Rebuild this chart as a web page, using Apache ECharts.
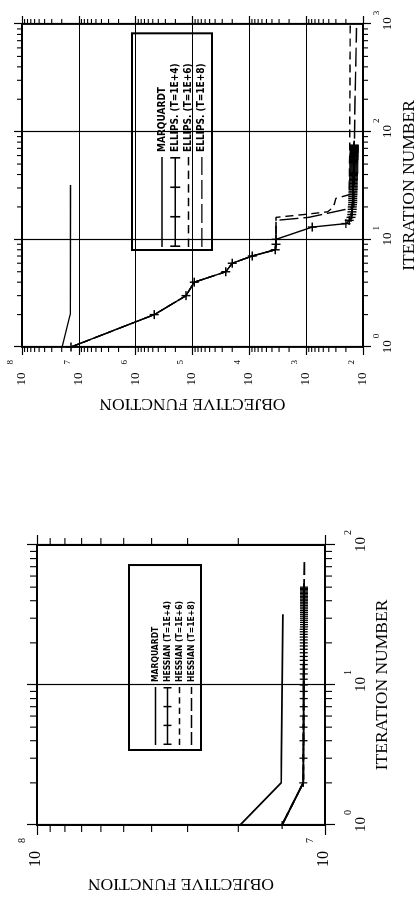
<!DOCTYPE html>
<html>
<head>
<meta charset="utf-8">
<script src="https://cdn.jsdelivr.net/npm/echarts@6/dist/echarts.min.js"></script>
<style>
  html, body { margin: 0; padding: 0; background: #fff; overflow: hidden; }
  /* the scan is a landscape figure turned a quarter turn, so the chart is drawn upright and rotated */
  #chart { position: absolute; left: 0; top: 0; width: 897px; height: 417px;
    transform-origin: 0 0; transform: translate(0, 897px) rotate(-90deg); }
</style>
</head>
<body>
<div id="chart"></div>
<script>
// MARQUARDT reference run (same in both panels)
const marqIter = [1, 2, 32]
const marqObj = [1.97e7, 1.42e7, 1.40e7]

// right panel: ELLIPS. runs
const ellips4Iter = [1, 2, 3, 4, 5, 6, 7, 8, 9, 10, 13, 14, 15, 16,
  17, 18, 19, 20, 21, 22, 23, 24, 25, 26,
  27, 28, 29, 30, 31, 32, 33, 34, 35, 36,
  37, 38, 39, 40, 41, 42, 43, 44, 45, 46,
  47, 48, 49, 50, 51, 52, 53, 54, 55, 56,
  57, 58, 59, 60, 61, 62, 63, 64, 65, 66,
  67, 68, 69, 70, 71, 72, 73, 74, 75]
const ellips4Obj = [1.37e7, 4.7e5, 1.3e5, 9.3e4, 2.6e4, 2.0e4, 8.9e3, 3.5e3, 3.4e3, 3.4e3, 780, 200, 175, 162,
  158, 156, 155, 154, 153, 152, 152, 151, 151, 150,
  150, 150, 149, 149, 149, 148, 148, 148, 148, 147,
  147, 147, 147, 147, 146, 146, 146, 146, 146, 146,
  145, 145, 145, 145, 145, 145, 145, 145, 144, 144,
  144, 144, 144, 144, 144, 144, 144, 143, 143, 143,
  143, 143, 143, 143, 143, 143, 143, 143, 143]
const ellips6Iter = [1, 2, 3, 4, 5, 6, 7, 8, 9, 10, 16, 17, 18, 20, 24, 26, 60, 200, 1000]
const ellips6Obj = [1.37e7, 4.7e5, 1.3e5, 9.3e4, 2.6e4, 2.0e4, 8.9e3, 3.5e3, 3.4e3, 3.4e3, 3.4e3, 1.1e3, 420, 330, 300, 175, 172, 170, 168]
const ellips8Iter = [1, 2, 3, 4, 5, 6, 7, 8, 9, 10, 15, 16, 19, 20, 75, 200, 920]
const ellips8Obj = [1.37e7, 4.7e5, 1.3e5, 9.3e4, 2.6e4, 2.0e4, 8.9e3, 3.5e3, 3.4e3, 3.4e3, 3.4e3, 900, 200, 145, 142, 138, 130]

// left panel: HESSIAN runs
const hess4Iter = [1, 2, 3, 4, 5, 6, 7, 8, 9, 10,
  11, 12, 13, 14, 15, 16, 17, 18, 19, 20,
  21, 22, 23, 24, 25, 26, 27, 28, 29, 30,
  31, 32, 33, 34, 35, 36, 37, 38, 39, 40,
  41, 42, 43, 44, 45, 46, 47, 48, 49, 50]
const hess4Obj = [1.41e7, 1.19e7, 1.188e7, 1.187e7, 1.187e7, 1.186e7, 1.186e7, 1.186e7, 1.185e7, 1.185e7,
  1.185e7, 1.185e7, 1.185e7, 1.185e7, 1.184e7, 1.184e7, 1.184e7, 1.184e7, 1.184e7, 1.184e7,
  1.184e7, 1.184e7, 1.184e7, 1.184e7, 1.184e7, 1.183e7, 1.183e7, 1.183e7, 1.183e7, 1.183e7,
  1.183e7, 1.183e7, 1.183e7, 1.183e7, 1.183e7, 1.183e7, 1.183e7, 1.183e7, 1.183e7, 1.183e7,
  1.183e7, 1.183e7, 1.183e7, 1.183e7, 1.183e7, 1.183e7, 1.183e7, 1.183e7, 1.183e7, 1.183e7]
const hess6Iter = [1, 2, 55]
const hess6Obj = [1.41e7, 1.19e7, 1.182e7]
const hess8Iter = [1, 2, 78]
const hess8Obj = [1.41e7, 1.19e7, 1.18e7]

// axis ranges
const iterRangeA = [1, 1000]
const objRangeA = [1e2, 1e8]
const iterRangeB = [1, 100]
const objRangeB = [1e7, 1e8]
const minorSteps = [2, 3, 4, 5, 6, 7, 8, 9]

const INK = '#000'
const SERIF = "'Liberation Serif', 'DejaVu Serif', serif"
const NARROW = "'Liberation Sans Narrow', 'DejaVu Sans Condensed', 'DejaVu Sans', sans-serif"
const CROSS = 'path://M0,4.2H10V5.8H0Z M4.2,0H5.8V10H4.2Z'

function zip (xs, ys) {
  return xs.map((x, i) => [x, ys[i]])
}

function minorTicks (lo, hi) {
  const out = []
  for (let d = lo; d < hi; d *= 10) {
    minorSteps.forEach(m => out.push(m * d))
  }
  return out
}

// legend icons, drawn as filled bars so the dash pattern matches the scan
function barIcon (w, h, t, dash, gap) {
  const y0 = (h - t) / 2
  let p = ''
  if (!dash) {
    p = 'M0,' + y0 + 'H' + w + 'V' + (y0 + t) + 'H0Z'
  } else {
    for (let x = 0; x < w; x += dash + gap) {
      const x2 = Math.min(x + dash, w)
      p += 'M' + x + ',' + y0 + 'H' + x2 + 'V' + (y0 + t) + 'H' + x + 'Z'
    }
  }
  return p
}
function crossIcon (w, h, t, n) {
  let p = barIcon(w, h, t)
  for (let i = 0; i < n; i++) {
    const cx = t / 2 + (w - t) * i / (n - 1)
    p += 'M' + (cx - t / 2) + ',0H' + (cx + t / 2) + 'V' + h + 'H' + (cx - t / 2) + 'Z'
  }
  return p
}

function decadeLabel (size, sup, margin, supGap) {
  return {
    show: true,
    margin: margin,
    color: INK,
    fontFamily: SERIF,
    fontSize: size,
    showMinLabel: true,
    showMaxLabel: true,
    padding: [0, 0, Math.round(size * 0.8), Math.round(sup * 0.6 + supGap)],
    formatter: v => '{b|10}{s|' + Math.round(Math.log10(v)) + '}',
    rich: {
      b: { fontSize: size, fontFamily: SERIF, color: INK, verticalAlign: 'bottom', padding: [Math.round(size * 0.7), 0, 0, 0] },
      s: { fontSize: sup, fontFamily: SERIF, color: INK, verticalAlign: 'top', padding: [0, 0, 0, supGap] }
    }
  }
}

function makeAxis (gridIndex, range, pos, opt) {
  return {
    gridIndex: gridIndex,
    type: 'log',
    logBase: 10,
    min: range[0],
    max: range[1],
    splitNumber: 10,
    position: pos,
    name: opt.name || '',
    nameLocation: 'middle',
    nameGap: opt.nameGap || 0,
    nameTextStyle: { fontFamily: SERIF, fontSize: 17.5, color: INK },
    axisLine: { show: true, lineStyle: { color: INK, width: opt.frame } },
    axisTick: { show: true, inside: false, length: opt.tick, lineStyle: { color: INK, width: 1.2 } },
    minorTick: { show: false },
    axisLabel: opt.label || { show: false },
    splitLine: { show: !!opt.split, lineStyle: { color: INK, width: 1.2 } }
  }
}

function tickSeries (xIdx, yIdx, xRange, yRange, len) {
  const data = minorTicks(xRange[0], xRange[1]).map(v => [v, yRange[0], 0])
    .concat(minorTicks(yRange[0], yRange[1]).map(v => [xRange[0], v, 1]))
  return {
    type: 'custom',
    xAxisIndex: xIdx,
    yAxisIndex: yIdx,
    clip: false,
    silent: true,
    z: 5,
    encode: { x: 0, y: 1 },
    data: data,
    renderItem: function (params, api) {
      const cs = params.coordSys
      const p = api.coord([api.value(0), api.value(1)])
      const st = { stroke: INK, lineWidth: 1.1 }
      if (api.value(2) === 0) {
        return { type: 'group', children: [
          { type: 'line', shape: { x1: p[0], y1: cs.y + cs.height, x2: p[0], y2: cs.y + cs.height + len }, style: st },
          { type: 'line', shape: { x1: p[0], y1: cs.y, x2: p[0], y2: cs.y - len }, style: st }
        ] }
      }
      return { type: 'group', children: [
        { type: 'line', shape: { x1: cs.x, y1: p[1], x2: cs.x - len, y2: p[1] }, style: st },
        { type: 'line', shape: { x1: cs.x + cs.width, y1: p[1], x2: cs.x + cs.width + len, y2: p[1] }, style: st }
      ] }
    }
  }
}

function lineSeries (name, xIdx, yIdx, data, width, dash, symbolSize) {
  return {
    name: name,
    type: 'line',
    xAxisIndex: xIdx,
    yAxisIndex: yIdx,
    data: data,
    symbol: symbolSize ? CROSS : 'none',
    symbolSize: symbolSize || 0,
    itemStyle: { color: INK, borderWidth: 0 },
    lineStyle: { color: INK, width: width, type: dash || 'solid' },
    silent: true,
    z: 3
  }
}

const legendInk = { color: INK, borderWidth: 0 }

const chart = echarts.init(document.getElementById('chart'), null, { renderer: 'canvas' })
chart.setOption({
  animation: false,
  backgroundColor: '#fff',
  grid: [
    { left: 550, right: 24, top: 22, bottom: 54, outerBoundsMode: 'none' },
    { left: 72, right: 545, top: 37, bottom: 92, outerBoundsMode: 'none' }
  ],
  xAxis: [
    makeAxis(0, iterRangeA, 'bottom', { name: 'ITERATION NUMBER', nameGap: 37, frame: 1.8, tick: 8, split: true, label: decadeLabel(13, 9, 9, 2) }),
    makeAxis(0, iterRangeA, 'top', { frame: 1.8, tick: 8 }),
    makeAxis(1, iterRangeB, 'bottom', { name: 'ITERATION NUMBER', nameGap: 48, frame: 2, tick: 10, split: true, label: decadeLabel(15, 10, 18, 2) }),
    makeAxis(1, iterRangeB, 'top', { frame: 2, tick: 10 })
  ],
  yAxis: [
    makeAxis(0, objRangeA, 'left', { name: 'OBJECTIVE FUNCTION', nameGap: 48, frame: 1.8, tick: 8, split: true, label: decadeLabel(13, 9, 13, 8) }),
    makeAxis(0, objRangeA, 'right', { frame: 1.8, tick: 8 }),
    makeAxis(1, objRangeB, 'left', { name: 'OBJECTIVE FUNCTION', nameGap: 50, frame: 2, tick: 10, split: true, label: decadeLabel(16, 10, 13, 8) }),
    makeAxis(1, objRangeB, 'right', { frame: 2, tick: 10 })
  ],
  legend: [
    {
      orient: 'vertical',
      left: 647,
      top: 132,
      padding: [25, 30, 5, 3],
      itemGap: 3.3,
      itemWidth: 90,
      itemHeight: 10,
      borderColor: INK,
      borderWidth: 2,
      selectedMode: false,
      textStyle: { fontFamily: NARROW, fontSize: 10, fontWeight: 'bold', color: INK },
      data: [
        { name: 'MARQUARDT', icon: 'path://' + barIcon(90, 10, 1.4), itemStyle: legendInk },
        { name: 'ELLIPS. (T=1E+4)', icon: 'path://' + crossIcon(90, 10, 1.6, 4), itemStyle: legendInk },
        { name: 'ELLIPS. (T=1E+6)', icon: 'path://' + barIcon(90, 10, 1.4, 8, 5), itemStyle: legendInk },
        { name: 'ELLIPS. (T=1E+8)', icon: 'path://' + barIcon(90, 10, 1.4, 19, 5), itemStyle: legendInk }
      ]
    },
    {
      orient: 'vertical',
      left: 147,
      top: 129,
      padding: [22, 36, 5, 5],
      itemGap: 3,
      itemWidth: 58,
      itemHeight: 8,
      borderColor: INK,
      borderWidth: 2,
      selectedMode: false,
      textStyle: { fontFamily: NARROW, fontSize: 8.5, fontWeight: 'bold', color: INK },
      data: [
        { name: 'MARQUARDT', icon: 'path://' + barIcon(58, 8, 1.4), itemStyle: legendInk },
        { name: 'HESSIAN (T=1E+4)', icon: 'path://' + crossIcon(58, 8, 1.5, 4), itemStyle: legendInk },
        { name: 'HESSIAN (T=1E+6)', icon: 'path://' + barIcon(58, 8, 1.4, 6, 4), itemStyle: legendInk },
        { name: 'HESSIAN (T=1E+8)', icon: 'path://' + barIcon(58, 8, 1.4, 13, 4), itemStyle: legendInk }
      ]
    }
  ],
  series: [
    lineSeries('MARQUARDT', 0, 0, zip(marqIter, marqObj), 1.4),
    lineSeries('ELLIPS. (T=1E+4)', 0, 0, zip(ellips4Iter, ellips4Obj), 1.4, null, 9),
    lineSeries('ELLIPS. (T=1E+6)', 0, 0, zip(ellips6Iter, ellips6Obj), 1.4, [8, 5]),
    lineSeries('ELLIPS. (T=1E+8)', 0, 0, zip(ellips8Iter, ellips8Obj), 1.4, [19, 5]),
    tickSeries(0, 0, iterRangeA, objRangeA, 5),
    lineSeries('MARQUARDT', 2, 2, zip(marqIter, marqObj), 1.8),
    lineSeries('HESSIAN (T=1E+4)', 2, 2, zip(hess4Iter, hess4Obj), 1.8, null, 8),
    lineSeries('HESSIAN (T=1E+6)', 2, 2, zip(hess6Iter, hess6Obj), 1.8, [6, 4]),
    lineSeries('HESSIAN (T=1E+8)', 2, 2, zip(hess8Iter, hess8Obj), 1.8, [13, 4]),
    tickSeries(2, 2, iterRangeB, objRangeB, 7)
  ]
})
</script>
</body>
</html>
